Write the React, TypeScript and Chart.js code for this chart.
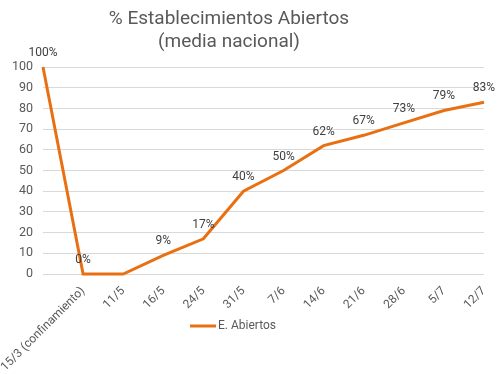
import React, { useEffect, useRef } from "react";
import { Chart, registerables } from "chart.js";

Chart.register(...registerables);

const titleLines = ["% Establecimientos Abiertos", "(media nacional)"];
const categories = ["", "15/3 (confinamiento)", "11/5", "16/5", "24/5", "31/5", "7/6", "14/6", "21/6", "28/6", "5/7", "12/7"];
const seriesName = "E. Abiertos";
const values = [100, 0, 0, 9, 17, 40, 50, 62, 67, 73, 79, 83];
const dataLabels = ["100%", "0%", "", "9%", "17%", "40%", "50%", "62%", "67%", "73%", "79%", "83%"];
const yTicks = [0, 10, 20, 30, 40, 50, 60, 70, 80, 90, 100];

const ORANGE = "#E97012";
const TEXT = "#595959";
const FONT = "Roboto, 'Noto Sans', sans-serif";

const customPlugin = {
  id: "custom",
  afterDatasetsDraw(chart: any) {
    const ctx = chart.ctx;
    const meta = chart.getDatasetMeta(0);
    ctx.save();
    ctx.font = `12px ${FONT}`;
    ctx.fillStyle = "#404040";
    ctx.textAlign = "center";
    ctx.textBaseline = "bottom";
    meta.data.forEach((pt: any, i: number) => {
      ctx.fillText(dataLabels[i], pt.x, pt.y - 8);
    });
    ctx.restore();
  },
  afterDraw(chart: any) {
    const ctx = chart.ctx;
    ctx.save();
    ctx.fillStyle = TEXT;
    ctx.textAlign = "center";
    ctx.textBaseline = "middle";
    ctx.font = `19px ${FONT}`;
    ctx.fillText(titleLines[0], 229, 19);
    ctx.fillText(titleLines[1], 229, 42);
    // legend
    ctx.strokeStyle = ORANGE;
    ctx.lineWidth = 3;
    ctx.beginPath();
    ctx.moveTo(190, 326);
    ctx.lineTo(216, 326);
    ctx.stroke();
    ctx.font = `12px ${FONT}`;
    ctx.textAlign = "left";
    ctx.fillStyle = TEXT;
    ctx.fillText(seriesName, 218, 326);
    ctx.restore();
  },
};

export default function App() {
  const ref = useRef<HTMLCanvasElement>(null);
  useEffect(() => {
    document.body.style.margin = "0";
    const chart = new Chart(ref.current!, {
      type: "line",
      data: {
        labels: categories,
        datasets: [
          {
            label: seriesName,
            data: values,
            borderColor: ORANGE,
            backgroundColor: ORANGE,
            borderWidth: 3,
            pointRadius: 0,
            tension: 0,
            clip: false as any,
          },
        ],
      },
      options: {
        responsive: false,
        animation: false,
        layout: { padding: { left: 8, right: 16, top: 67, bottom: 0 } },
        plugins: { legend: { display: false }, title: { display: false }, tooltip: { enabled: false } },
        scales: {
          x: {
            offset: false,
            grid: { display: false },
            border: { display: false },
            ticks: {
              autoSkip: false,
              minRotation: 45,
              maxRotation: 45,
              color: TEXT,
              font: { family: FONT, size: 12 },
              padding: 2,
            },
            afterFit: (s: any) => {
              s.height = 100;
            },
          },
          y: {
            min: 0,
            max: 100,
            afterBuildTicks: (s: any) => {
              s.ticks = yTicks.map((v) => ({ value: v }));
            },
            grid: { color: "#D9D9D9", lineWidth: 1, drawTicks: false },
            border: { display: false },
            ticks: { color: TEXT, font: { family: FONT, size: 12.5 }, padding: 10 },
            afterFit: (s: any) => {
              s.width = 35;
            },
          },
        },
      },
      plugins: [customPlugin],
    });
    return () => chart.destroy();
  }, []);
  return (
    <div style={{ position: "absolute", left: 0, top: 0, width: 500, height: 374 }}>
      <canvas ref={ref} width={500} height={374} />
    </div>
  );
}
